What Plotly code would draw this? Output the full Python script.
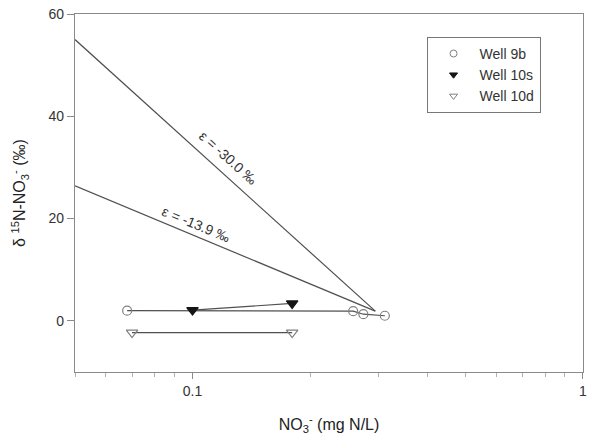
import plotly.graph_objects as go

# Well data (NO3- in mg N/L, delta15N in permil)
well9b_x = [0.068, 0.258, 0.274, 0.311]
well9b_y = [2.0, 1.9, 1.3, 1.0]
well10s_x = [0.100, 0.180]
well10s_y = [2.1, 3.4]
well10d_x = [0.070, 0.180]
well10d_y = [-2.3, -2.3]

# Rayleigh fractionation lines (endpoints)
eps30_x = [0.05, 0.294]
eps30_y = [55.0, 1.9]
eps139_x = [0.05, 0.294]
eps139_y = [26.4, 1.9]

x_major = [0.1, 1]
x_major_text = ["0.1", "1"]
y_ticks = [0, 20, 40, 60]

line_col = "#505050"
axis_col = "#8a8a8a"
font_fam = "Liberation Sans, Arial, sans-serif"

fig = go.Figure()

for xs, ys in [(eps30_x, eps30_y), (eps139_x, eps139_y)]:
    fig.add_trace(go.Scatter(x=xs, y=ys, mode="lines", showlegend=False,
                             line=dict(color=line_col, width=1.2)))

for xs, ys in [(well9b_x, well9b_y), (well10s_x, well10s_y), (well10d_x, well10d_y)]:
    fig.add_trace(go.Scatter(x=xs, y=ys, mode="lines", showlegend=False,
                             line=dict(color=line_col, width=1.2)))

styles = {
    "Well 9b": dict(symbol="circle-open", color="#808080"),
    "Well 10s": dict(symbol="triangle-down", color="#151515"),
    "Well 10d": dict(symbol="triangle-down-open", color="#808080"),
}
data = {"Well 9b": (well9b_x, well9b_y), "Well 10s": (well10s_x, well10s_y),
        "Well 10d": (well10d_x, well10d_y)}

for name, (xs, ys) in data.items():
    st = styles[name]
    size = 9 if name == "Well 9b" else 10
    fig.add_trace(go.Scatter(x=xs, y=ys, mode="markers", name=name, showlegend=False,
                             marker=dict(symbol=st["symbol"], size=size, color=st["color"],
                                         line=dict(width=1.2, color=st["color"]))))
# legend entries (small symbols, as in the original key)
for name in data:
    st = styles[name]
    fig.add_trace(go.Scatter(x=[None], y=[None], mode="markers", name=name,
                             marker=dict(symbol=st["symbol"], size=7, color=st["color"],
                                         line=dict(width=1, color=st["color"]))))

fig.update_xaxes(type="log", range=[-1.30103, 0.0004], tickmode="array",
                 tickvals=x_major, ticktext=x_major_text, ticklabeloverflow="allow",
                 ticks="outside", ticklen=6, tickcolor=axis_col,
                 showline=True, linecolor=axis_col, linewidth=1.2, mirror=True,
                 showgrid=False, zeroline=False,
                 minor=dict(ticks="outside", dtick="D1", ticklen=4, tickcolor="#b0b0b0",
                            showgrid=False),
                 tickfont=dict(size=14, color="#333333", family=font_fam),
                 title=dict(text="NO<sub>3</sub><sup>-</sup> (mg N/L)",
                            font=dict(size=16, color="#222222", family=font_fam),
                            standoff=20))
fig.update_yaxes(range=[-10, 60], tickmode="array", tickvals=y_ticks,
                 ticks="outside", ticklen=7, tickcolor=axis_col,
                 showline=True, linecolor=axis_col, linewidth=1.2, mirror=True,
                 showgrid=False, zeroline=False,
                 tickfont=dict(size=14, color="#333333", family=font_fam),
                 title=dict(text="δ <sup>15</sup>N-NO<sub>3</sub><sup>-</sup> (‰)",
                            font=dict(size=16, color="#222222", family=font_fam),
                            standoff=18))

fig.add_annotation(x=-0.908, y=31.8, xref="x", yref="y", text="ε = -30.0 ‰",
                   showarrow=False, textangle=41.8,
                   font=dict(size=14, color="#333333", family=font_fam))
fig.add_annotation(x=-0.992, y=18.9, xref="x", yref="y", text="ε = -13.9 ‰",
                   showarrow=False, textangle=22.3,
                   font=dict(size=14, color="#333333", family=font_fam))

fig.update_layout(
    width=589, height=437,
    margin=dict(l=75, r=6, t=14, b=65, autoexpand=False),
    paper_bgcolor="white", plot_bgcolor="white",
    font=dict(family=font_fam),
    showlegend=True,
    legend=dict(x=0.692, y=0.936, xanchor="left", yanchor="top",
                bordercolor="#777777", borderwidth=1, bgcolor="white",
                font=dict(size=14, color="#333333", family=font_fam),
                itemwidth=42, tracegroupgap=0),
)

fig.write_html("out.html")
